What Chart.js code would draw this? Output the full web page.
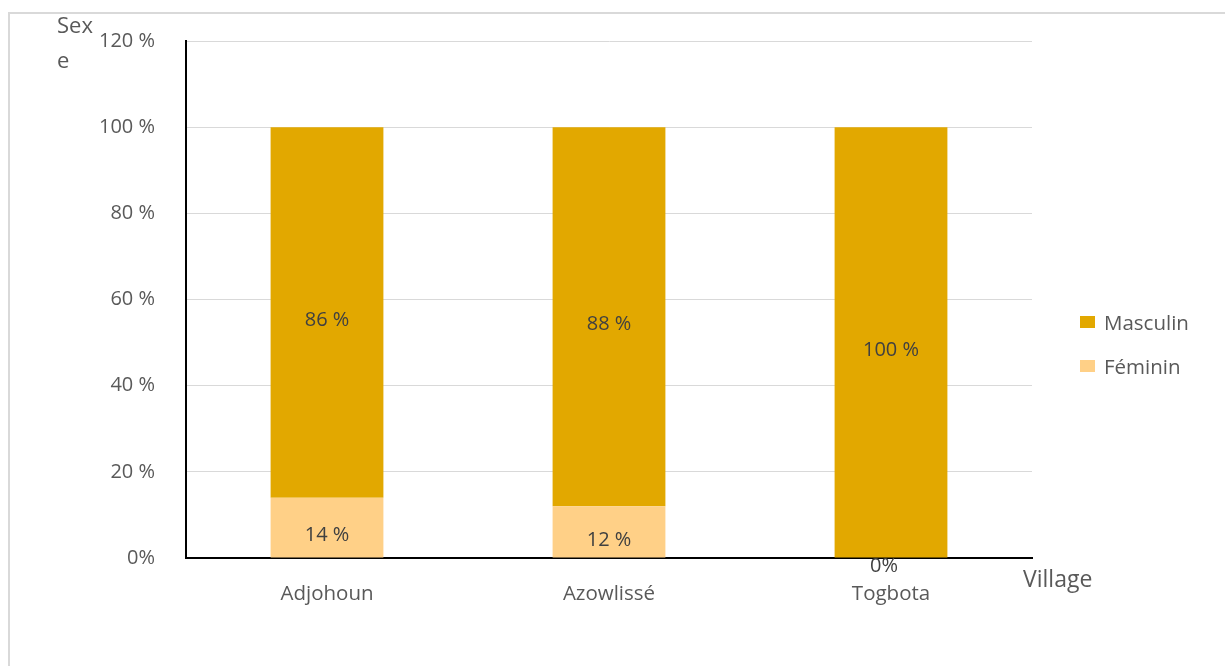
<!DOCTYPE html>
<html lang="fr">
<head>
  <meta charset="UTF-8" />
  <title>Sexe par village</title>
  <style>
    body {
      margin: 0;
      background: #fff;
      overflow: hidden;
    }
    .frame {
      position: absolute;
      left: 8px;
      top: 12px;
      width: 1400px;
      height: 900px;
      border: 2px solid #d9d9d9;
    }
    #chart {
      position: absolute;
      left: 0;
      top: 0;
    }
  </style>
</head>
<body>
  <div class="frame"></div>
  <canvas id="chart" width="1225" height="666"></canvas>

  <script src="https://cdn.jsdelivr.net/npm/chart.js"></script>
  <script>
    const villages = ["Adjohoun", "Azowlissé", "Togbota"];
    const feminin = [14, 12, 0];
    const masculin = [86, 88, 100];
    const yTicks = [0, 20, 40, 60, 80, 100, 120];

    const FONT = "'Open Sans', 'Noto Sans', sans-serif";
    const pct = v => (v === 0 ? "0%" : v + " %");

    // values written in the middle of each stacked segment
    const segmentLabels = {
      id: "segmentLabels",
      afterDatasetsDraw(chart) {
        const c = chart.ctx;
        c.save();
        c.font = "20px " + FONT;
        c.fillStyle = "#404040";
        c.textAlign = "center";
        c.textBaseline = "middle";
        chart.data.datasets.forEach((ds, i) => {
          chart.getDatasetMeta(i).data.forEach((el, j) => {
            const v = ds.data[j];
            const x = v === 0 ? el.x - 7 : el.x;
            c.fillText(pct(v), x, (el.y + el.base) / 2 + 8);
          });
        });
        c.restore();
      }
    };

    // axis names and the legend on the right
    const extras = {
      id: "extras",
      afterDraw(chart) {
        const c = chart.ctx;
        const a = chart.chartArea;
        c.save();
        c.fillStyle = "#595959";
        c.font = "22px " + FONT;
        c.textBaseline = "middle";
        c.textAlign = "left";
        c.fillText("Sex", 57, 27);
        c.fillText("e", 57, 62);
        c.font = "23px " + FONT;
        c.fillText("Village", a.right - 9, 580);

        const items = [
          { text: "Masculin", color: chart.data.datasets[1].backgroundColor },
          { text: "Féminin", color: chart.data.datasets[0].backgroundColor }
        ];
        c.font = "20.5px " + FONT;
        items.forEach((it, k) => {
          const cy = 324 + k * 44;
          c.fillStyle = it.color;
          c.fillRect(a.right + 48, cy - 8, 15, 12);
          c.fillStyle = "#595959";
          c.fillText(it.text, a.right + 72, cy);
        });
        c.restore();
      }
    };

    new Chart(document.getElementById("chart"), {
      type: "bar",
      data: {
        labels: villages,
        datasets: [
          {
            label: "Féminin",
            data: feminin,
            backgroundColor: "#ffd087",
            categoryPercentage: 0.4,
            barPercentage: 1
          },
          {
            label: "Masculin",
            data: masculin,
            backgroundColor: "#e2a800",
            categoryPercentage: 0.4,
            barPercentage: 1
          }
        ]
      },
      options: {
        responsive: false,
        animation: false,
        devicePixelRatio: 1,
        layout: { padding: { left: 0, top: 41, right: 193, bottom: 0 } },
        plugins: {
          legend: { display: false },
          tooltip: { enabled: false }
        },
        scales: {
          x: {
            stacked: true,
            grid: { display: false, drawTicks: false },
            border: { display: true, color: "#000", width: 2 },
            ticks: {
              color: "#595959",
              font: { family: FONT, size: 20.5 },
              padding: 24
            },
            afterFit(scale) { scale.height = 108; }
          },
          y: {
            stacked: true,
            min: 0,
            max: 120,
            afterBuildTicks(scale) {
              scale.ticks = yTicks.map(v => ({ value: v }));
            },
            grid: { color: "#d9d9d9", lineWidth: 1, drawTicks: false },
            border: { display: true, color: "#000", width: 2 },
            ticks: {
              color: "#595959",
              font: { family: FONT, size: 20 },
              padding: 31,
              callback: v => pct(v)
            },
            afterFit(scale) {
              scale.width = 186;
              scale.paddingTop = 0;
              scale.paddingBottom = 0;
            }
          }
        }
      },
      plugins: [segmentLabels, extras]
    });
  </script>
</body>
</html>
